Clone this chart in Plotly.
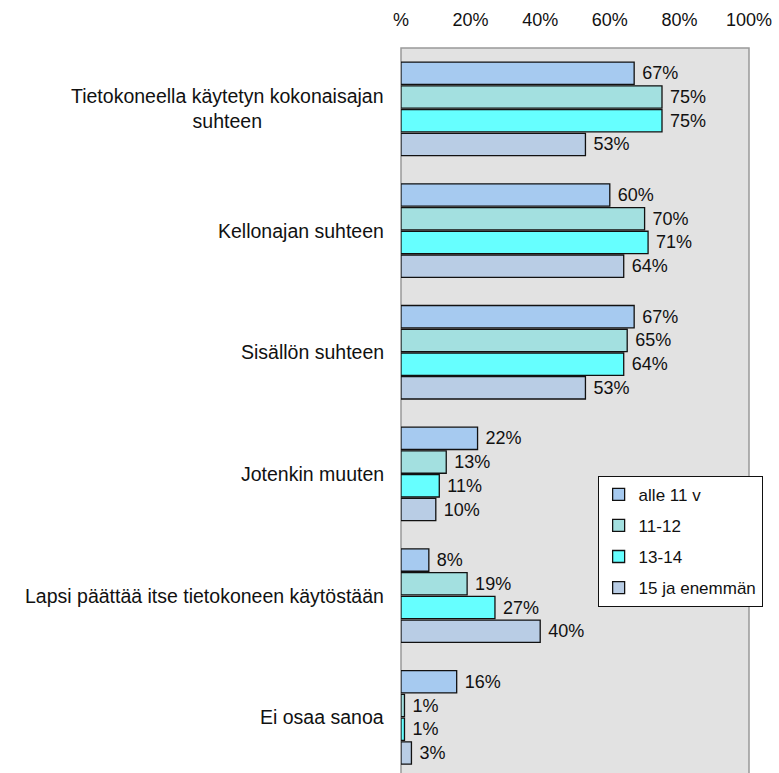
import plotly.graph_objects as go

categories = [
    "Tietokoneella käytetyn kokonaisajan<br>suhteen",
    "Kellonajan suhteen",
    "Sisällön suhteen",
    "Jotenkin muuten",
    "Lapsi päättää itse tietokoneen käytöstään",
    "Ei osaa sanoa",
]
series_names = ["alle 11 v", "11-12", "13-14", "15 ja enemmän"]
alle_11 = [67, 60, 67, 22, 8, 16]
v11_12 = [75, 70, 65, 13, 19, 1]
v13_14 = [75, 71, 64, 11, 27, 1]
v15_plus = [53, 64, 53, 10, 40, 3]
tick_values = [0, 20, 40, 60, 80, 100]
tick_labels = ["%", "20%", "40%", "60%", "80%", "100%"]

colors = ["#A6CAF0", "#A3E0E0", "#66FFFF", "#B9CDE5"]
FONT = "Liberation Sans, Arial, sans-serif"

fig = go.Figure()
for i, (name, vals) in enumerate(zip(series_names, [alle_11, v11_12, v13_14, v15_plus])):
    fig.add_trace(go.Bar(
        y=list(range(len(categories))), x=vals, name=name, orientation="h",
        marker=dict(color=colors[i], line=dict(color="#111111", width=1.3)),
        text=[f"\u00a0{v}%" for v in vals], texttemplate="%{text}", textposition="outside",
        textfont=dict(size=18, color="#111111", family=FONT),
        cliponaxis=False, legendgroup=str(i), hoverinfo="skip",
    ))

for j, cat in enumerate(categories):
    fig.add_annotation(
        x=0, xref="paper", y=j, yref="y", text=cat, showarrow=False,
        xanchor="right", yanchor="middle", align="center", xshift=-15,
        font=dict(size=19.5, color="#111111", family=FONT),
    )

fig.add_shape(type="rect", xref="paper", yref="paper", x0=0, x1=1, y0=-0.05, y1=1,
              line=dict(color="#999999", width=1.5), layer="below")

fig.update_layout(
    width=779, height=773,
    margin=dict(l=401, r=30, t=48, b=0),
    paper_bgcolor="white", plot_bgcolor="#E2E2E2",
    barmode="group", bargap=0.22, bargroupgap=0.06,
    font=dict(family=FONT, size=18, color="#111111"),
    showlegend=True,
    legend=dict(
        x=0.565, y=0.41, xanchor="left", yanchor="top",
        bgcolor="white", bordercolor="#111111", borderwidth=1,
        font=dict(size=17, family=FONT, color="#111111"),
        traceorder="grouped", tracegroupgap=6,
    ),
)
fig.update_xaxes(
    side="top", range=[0, 100], tickvals=tick_values, ticktext=tick_labels,
    showgrid=False, zeroline=False, showline=False,
    ticks="outside", ticklen=14, tickcolor="rgba(0,0,0,0)",
    tickfont=dict(size=18, family=FONT, color="#111111"),
)
fig.update_yaxes(
    range=[5.457, -0.5], showticklabels=False, showgrid=False, zeroline=False,
    showline=False, ticks="",
)

fig.write_html("out.html", config={"displayModeBar": False},
               post_script="document.body.style.margin='0';")
